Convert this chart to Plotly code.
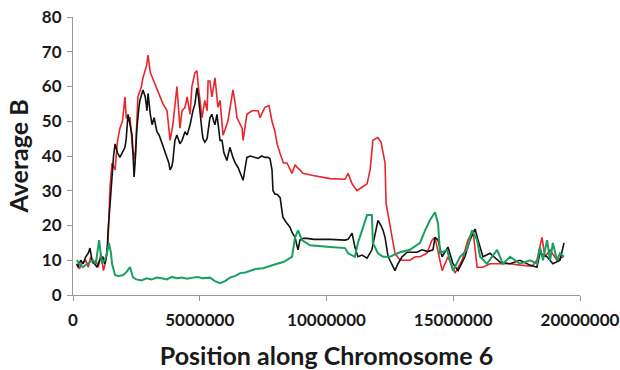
import plotly.graph_objects as go

# Sliding-window average B along chromosome 6 (positions in Mb)
black_pos = [0.15, 0.20, 0.30, 0.40, 0.50, 0.60, 0.67, 0.75, 0.85, 0.95, 1.05, 1.18, 1.25, 1.34, 1.38,
             1.46, 1.54, 1.60, 1.66, 1.75, 1.85, 1.95, 2.05, 2.10, 2.17, 2.25, 2.33, 2.37, 2.41, 2.45,
             2.52, 2.60, 2.64, 2.76, 2.85, 2.92, 2.96, 3.05, 3.12, 3.20, 3.31, 3.40, 3.51, 3.60, 3.71,
             3.78, 3.83, 3.90, 3.94, 4.02, 4.10, 4.22, 4.30, 4.42, 4.50, 4.62, 4.73, 4.81, 4.89, 4.95,
             5.09, 5.13, 5.20, 5.29, 5.40, 5.48, 5.55, 5.60, 5.68, 5.80, 5.88, 5.95, 6.07, 6.19, 6.31,
             6.40, 6.51, 6.60, 6.71, 6.80, 6.86, 7.00, 7.18, 7.30, 7.45, 7.57, 7.69, 7.77, 7.85, 7.89,
             7.97, 8.05, 8.17, 8.28, 8.40, 8.56, 8.64, 8.76, 8.84, 8.88, 8.95, 9.10, 9.23, 9.50, 10.14,
             10.73, 10.85, 11.01, 11.12, 11.24, 11.40, 11.60, 11.79, 12.03, 12.15, 12.23, 12.31, 12.43,
             12.50, 12.62, 12.70, 12.82, 12.98, 13.18, 13.57, 13.77, 14.00, 14.20, 14.28, 14.40, 14.56,
             14.79, 14.99, 15.19, 15.46, 15.66, 15.86, 15.98, 16.17, 16.45, 16.84, 17.24, 17.63, 18.03,
             18.30, 18.42, 18.70, 18.93, 19.21, 19.37]
black_val = [9, 8, 10, 9, 11, 12, 13.5, 10, 9, 8, 10, 11, 9, 12, 18,
             27, 34, 40, 43.5, 41, 39.6, 41, 42.5, 45, 52, 49, 46, 40, 34, 38,
             48, 54, 56, 59, 57, 53, 58, 52, 49, 51, 47, 46, 43.5, 42, 39.6,
             38, 36, 37, 38.7, 44.5, 46, 43.5, 44.5, 47, 46, 49, 53, 55, 59.6, 57,
             47, 45, 44, 45, 51, 52, 50, 49, 52, 44.5, 44.5, 41, 38.7, 42.5, 39.6,
             38, 36.7, 35, 33, 37, 39.6, 40, 39.6, 39.3, 40, 39.6, 39.6, 39.3, 36, 30,
             29, 29, 28, 22.4, 21, 19.5, 18, 16.6, 14, 13, 15.8, 16.3, 16.3, 16, 16,
             15.8, 16, 17.8, 13.8, 11, 11.5, 10.6, 13, 21.5, 20, 18.6, 16.6, 11,
             10, 8, 7, 9, 11, 12.3, 12.3, 13, 12.5, 13, 16.6, 15.8, 11,
             13.8, 9, 7, 11, 15.8, 19, 15.8, 11, 12, 9.5, 9, 10, 8.6,
             8, 12, 11, 9, 10, 15]

red_pos = [0.15, 0.25, 0.35, 0.50, 0.60, 0.70, 0.80, 0.90, 1.00, 1.10, 1.20, 1.30, 1.38, 1.46, 1.54,
           1.66, 1.75, 1.85, 1.95, 2.05, 2.10, 2.25, 2.35, 2.45, 2.52, 2.56, 2.70, 2.76, 2.90, 2.96,
           3.05, 3.16, 3.31, 3.43, 3.55, 3.71, 3.83, 3.94, 4.02, 4.10, 4.22, 4.30, 4.42, 4.50, 4.62,
           4.69, 4.81, 4.89, 4.93, 5.09, 5.20, 5.29, 5.33, 5.40, 5.48, 5.60, 5.72, 5.80, 5.92, 6.11,
           6.20, 6.31, 6.40, 6.47, 6.67, 6.71, 6.86, 7.06, 7.30, 7.38, 7.50, 7.57, 7.73, 7.85, 7.97,
           8.05, 8.17, 8.30, 8.44, 8.56, 8.64, 8.76, 8.84, 8.95, 9.07, 9.47, 10.14, 10.73, 10.85, 11.01,
           11.20, 11.40, 11.60, 11.72, 11.83, 12.03, 12.15, 12.19, 12.31, 12.35, 12.50, 12.62, 12.70,
           12.90, 13.10, 13.29, 13.50, 13.69, 13.96, 14.16, 14.28, 14.40, 14.56, 14.79, 15.07, 15.35,
           15.58, 15.78, 15.94, 16.17, 16.45, 16.84, 17.24, 17.63, 18.11, 18.30, 18.50, 18.62, 18.82,
           19.09, 19.33]
red_val = [9, 7.5, 9, 10, 8, 11, 9, 10, 8, 12, 7, 10, 15, 31, 38,
           36, 44, 48, 50, 57, 51, 51, 42, 39, 50, 57, 60, 62.5, 66, 69,
           64, 62, 59, 57, 55, 53, 44.5, 49, 54, 60, 48, 53, 54, 57, 52,
           60, 64, 64.5, 61, 51, 56, 53, 61.6, 61.6, 57, 62.5, 54, 56, 46, 50,
           54, 59, 55, 51, 48, 44.5, 52, 53, 53, 51, 53, 54, 54.5, 50, 47,
           43.5, 40.7, 38, 38, 36, 35, 37.5, 36.7, 36, 35, 34.4, 33.5, 33.3, 35, 32,
           30, 31, 32, 36, 44.5, 45.3, 44, 42.5, 38, 26.4, 20.6, 15, 12,
           10, 10, 10, 11, 11, 12, 15.8, 16.6, 12, 7, 11, 6.3, 10,
           15.8, 18.6, 8, 8, 9, 9, 9, 8.6, 8.3, 10, 16.6, 11, 13,
           10, 11]

green_pos = [0.15, 0.25, 0.39, 0.55, 0.79, 0.90, 1.03, 1.14, 1.25, 1.34, 1.42, 1.50, 1.54, 1.66, 1.80,
             1.97, 2.10, 2.25, 2.37, 2.50, 2.70, 2.90, 3.10, 3.30, 3.50, 3.70, 3.90, 4.10, 4.30, 4.50,
             4.73, 4.93, 5.09, 5.40, 5.60, 5.80, 6.00, 6.19, 6.40, 6.60, 6.80, 6.98, 7.20, 7.50, 7.80,
             8.05, 8.30, 8.56, 8.64, 8.76, 8.88, 9.03, 9.35, 10.14, 10.73, 10.85, 11.12, 11.24, 11.44,
             11.60, 11.79, 11.83, 12.03, 12.23, 12.50, 12.90, 13.29, 13.69, 13.89, 14.08, 14.28, 14.40,
             14.48, 14.75, 14.99, 15.27, 15.54, 15.74, 15.94, 16.06, 16.33, 16.73, 16.96, 17.24, 17.63,
             18.03, 18.30, 18.42, 18.54, 18.70, 18.82, 18.93, 19.09, 19.21, 19.37]
green_val = [10, 9, 8, 9, 10, 9, 15.8, 9, 10, 12, 15, 12, 9, 5.7, 5.5,
             5.7, 6.5, 8, 5, 4.5, 4.2, 4.8, 4.5, 5, 4.8, 4.5, 5.2, 4.8, 5, 4.7,
             5, 5.2, 4.8, 5, 4, 3.4, 4, 5, 5.5, 6.3, 6.5, 7, 7.5, 7.7, 8.5,
             9, 9.5, 10.5, 11, 16.6, 18.6, 15.8, 14.3, 13.8, 13.5, 12, 11, 15, 19.5,
             23, 23, 15, 12, 11, 11, 12.3, 13, 15, 18.6, 21.5, 23.8, 20.6,
             12, 13, 7, 11, 13, 18.6, 15.8, 11, 9, 13, 9, 11, 9,
             10, 9, 13.8, 10, 15.8, 10, 15, 10, 12, 11]

x_ticks = [0, 5000000, 10000000, 15000000, 20000000]
x_tick_labels = ["0", "5000000", "10000000", "15000000", "20000000"]
y_ticks = [0, 10, 20, 30, 40, 50, 60, 70, 80]

FONT = "Lato"
fig = go.Figure()
for pos, val, color, width in [
    (red_pos, red_val, "#e8262b", 1.6),
    (black_pos, black_val, "#111111", 1.6),
    (green_pos, green_val, "#17a062", 2.0),
]:
    fig.add_trace(go.Scatter(
        x=[p * 1e6 for p in pos], y=val, mode="lines",
        line=dict(color=color, width=width), showlegend=False,
    ))

axis_common = dict(
    showgrid=False, zeroline=False, showline=True, linecolor="#9a9a9a", linewidth=1,
    ticks="outside", tickcolor="#9a9a9a", ticklen=5, automargin=False,
    tickfont=dict(family=FONT, size=17, color="#1a1a1a", weight="bold"),
)
fig.update_xaxes(range=[0, 20000000], tickvals=x_ticks, ticktext=x_tick_labels,
                 ticklabelstandoff=5,
                 title=dict(text="Position along Chromosome 6", standoff=18,
                            font=dict(family=FONT, size=25, color="#1a1a1a", weight="bold")),
                 **axis_common)
fig.update_yaxes(range=[0, 80], tickvals=y_ticks, ticklabelstandoff=2,
                 title=dict(text="Average B", standoff=6,
                            font=dict(family=FONT, size=25, color="#1a1a1a", weight="bold")),
                 **axis_common)
fig.update_layout(
    width=620, height=370, margin=dict(l=73, r=40, t=17, b=75),
    plot_bgcolor="white", paper_bgcolor="white",
)
fig.write_html("out.html")
